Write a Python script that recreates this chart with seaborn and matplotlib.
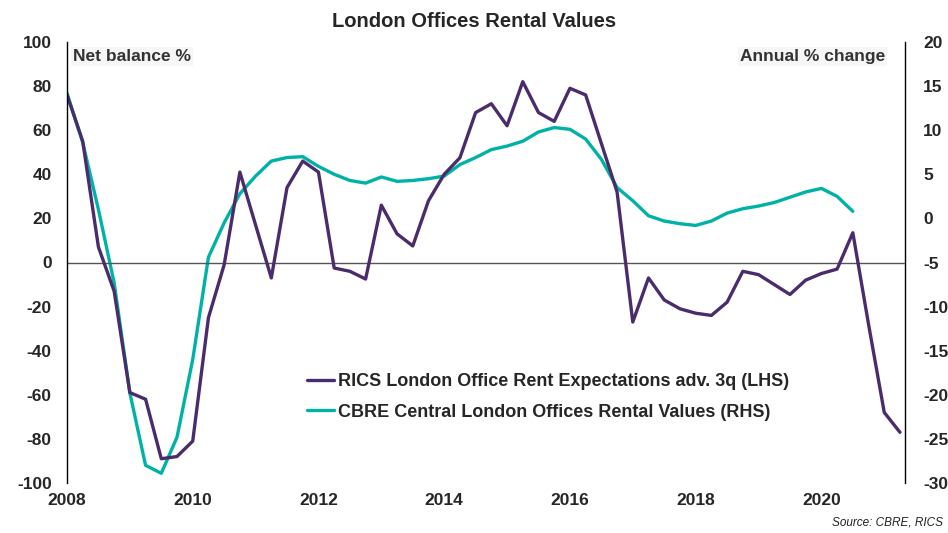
import numpy as np
import pandas as pd
import seaborn as sns
import matplotlib.pyplot as plt
from matplotlib.lines import Line2D

# RICS rent expectations, net balance %, quarterly from 2008 Q1 (LHS)
rics = [76, 55, 7, -13,
        -59, -62, -89, -88,
        -81, -25, -1, 41,
        17, -7, 34, 46,
        41, -2.5, -4, -7.5,
        26, 13, 7.5, 28,
        40, 47.5, 68, 72,
        62, 82, 68, 64,
        79, 76, 54, 32,
        -27, -7, -17, -21,
        -23, -24, -18, -4,
        -5.5, -10, -14.5, -8,
        -5, -3, 13.5, -28,
        -68, -77]

# CBRE rental values, annual % change, quarterly from 2008 Q1 (RHS)
cbre = [14.2, 8.6, 1.0, -7.3,
        -19.8, -28.0, -28.9, -24.8,
        -16.0, -4.4, -0.5, 2.8,
        4.8, 6.5, 6.9, 7.0,
        5.9, 5.0, 4.3, 4.0,
        4.7, 4.2, 4.3, 4.5,
        4.8, 6.1, 6.9, 7.8,
        8.2, 8.75, 9.8, 10.3,
        10.1, 9.0, 6.7, 3.5,
        2.0, 0.3, -0.3, -0.6,
        -0.8, -0.3, 0.6, 1.1,
        1.4, 1.8, 2.4, 3.0,
        3.4, 2.5, 0.8]

rics_label = "RICS London Office Rent Expectations adv. 3q (LHS)"
cbre_label = "CBRE Central London Offices Rental Values (RHS)"
purple = '#4a2c6d'
teal = '#00b2a6'

df_rics = pd.DataFrame({'t': 2008 + np.arange(len(rics)) / 4, 'v': rics})
df_cbre = pd.DataFrame({'t': 2008 + np.arange(len(cbre)) / 4, 'v': cbre})

sns.set_style('white')
plt.rcParams['font.family'] = ['Liberation Sans', 'DejaVu Sans']
plt.rcParams['axes.unicode_minus'] = False

fig = plt.figure(figsize=(9.48, 5.33), dpi=100)
ax = fig.add_axes([67 / 948, 1 - 483 / 533, 838 / 948, 441 / 533])
ax2 = ax.twinx()

sns.lineplot(x='t', y='v', data=df_rics, ax=ax, color=purple, linewidth=2.4)
sns.lineplot(x='t', y='v', data=df_cbre, ax=ax2, color=teal, linewidth=2.4)
ax.set_zorder(ax2.get_zorder() + 1)
ax.patch.set_visible(False)

ax.axhline(0, color='#555555', linewidth=1, zorder=0)

ax.set_xlim(2008, 2021.33)
ax.set_ylim(-100, 100)
ax2.set_ylim(-30, 20)
ax.set_xticks(range(2008, 2021, 2))
ax.set_yticks(range(-100, 101, 20))
ax2.set_yticks(range(-30, 21, 5))
ax.set_xlabel('')
ax.set_ylabel('')
ax2.set_ylabel('')

for a in (ax, ax2):
    a.tick_params(length=0, labelsize=12.5)
    for lab in a.get_xticklabels() + a.get_yticklabels():
        lab.set_fontweight('bold')
    for s in a.spines.values():
        s.set_visible(False)
ax.tick_params(axis='x', pad=7)
ax.tick_params(axis='y', pad=11)
ax2.tick_params(axis='y', pad=13)
ax.spines['left'].set_visible(True)
ax.spines['left'].set_color('black')
ax.spines['left'].set_linewidth(1)
ax2.spines['right'].set_visible(True)
ax2.spines['right'].set_color('black')
ax2.spines['right'].set_linewidth(1)

ax.text(0.007, 0.985, 'Net balance %', transform=ax.transAxes, fontsize=12.5,
        fontweight='bold', color='#333333', va='top', ha='left',
        bbox=dict(facecolor='#f6f6f6', edgecolor='none', pad=1.5))
ax.text(0.976, 0.985, 'Annual % change', transform=ax.transAxes, fontsize=12.5,
        fontweight='bold', color='#333333', va='top', ha='right',
        bbox=dict(facecolor='#f6f6f6', edgecolor='none', pad=1.5))

handles = [Line2D([], [], color=purple, linewidth=2.4),
           Line2D([], [], color=teal, linewidth=2.4)]
ax.legend(handles, [rics_label, cbre_label], loc='center left',
          bbox_to_anchor=(0.267, 0.195), frameon=False,
          prop={'weight': 'bold', 'size': 13},
          handlelength=1.5, handletextpad=0.2, labelspacing=0.75)

fig.suptitle('London Offices Rental Values', fontsize=14.5, fontweight='bold',
             x=0.5, y=0.978)
fig.text(0.995, 0.008, 'Source: CBRE, RICS', fontsize=8.5, style='italic',
         ha='right', va='bottom', color='#222222')

fig.savefig('out.png', dpi=100)
